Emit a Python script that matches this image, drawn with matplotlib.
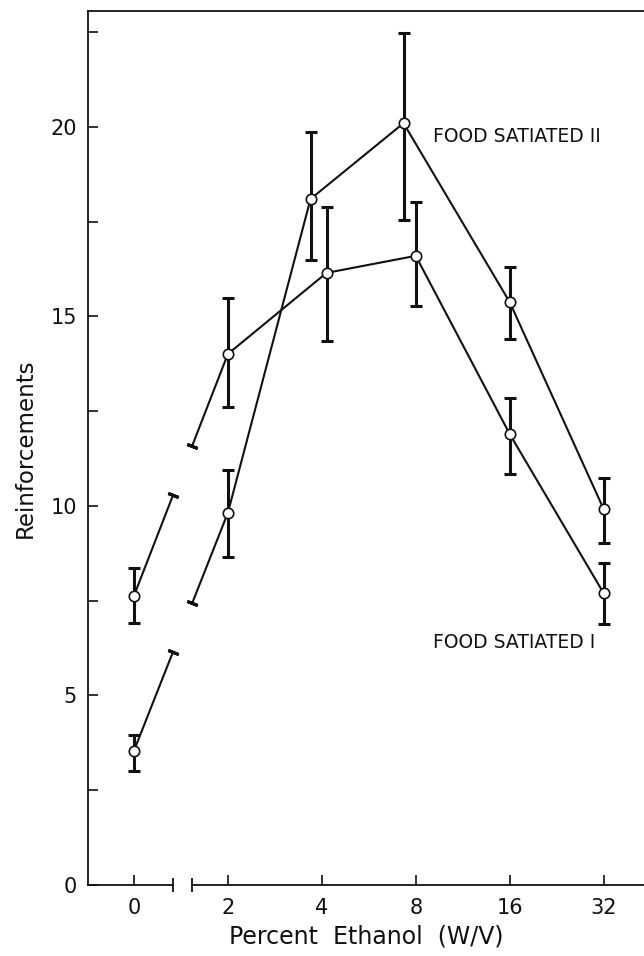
import numpy as np
import matplotlib
matplotlib.use("Agg")
import matplotlib.pyplot as plt

# ethanol concentration (% w/v), shown as equally spaced categories
conc_labels = ["0", "2", "4", "8", "16", "32"]

# FOOD SATIATED I
food_i_mean = [7.63, 14.01, 16.15, 16.6, 11.9, 7.7]
food_i_upper = [8.36, 15.5, 17.9, 18.02, 12.85, 8.5]
food_i_lower = [6.91, 12.61, 14.35, 15.28, 10.84, 6.89]

# FOOD SATIATED II
food_ii_mean = [3.54, 9.82, 18.1, 20.1, 15.38, 9.92]
food_ii_upper = [3.96, 10.95, 19.87, 22.47, 16.3, 10.74]
food_ii_lower = [3.01, 8.65, 16.49, 17.55, 14.4, 9.02]

y_ticks = [0, 2.5, 5, 7.5, 10, 12.5, 15, 17.5, 20, 22.5]

# layout only: small horizontal shifts so the two series don't overlap
dodge_i = [0, 0, 0.05, 0, 0, 0]
dodge_ii = [0, 0, -0.12, -0.13, 0, 0]
break_lo, break_hi = 0.415, 0.62

W, H = 644, 956
fig = plt.figure(figsize=(W / 100, H / 100), dpi=100)
ax = fig.add_axes([88 / W, 71 / H, (W - 88) / W, 874 / H])
ax.set_xlim(-0.489, 5.43)
ax.set_ylim(0, 23.06)

ink = "#111111"
series = [
    (food_i_mean, food_i_lower, food_i_upper, dodge_i),
    (food_ii_mean, food_ii_lower, food_ii_upper, dodge_ii),
]

for mean, lower, upper, dodge in series:
    mean = np.array(mean)
    x = np.arange(len(mean)) + np.array(dodge)
    yerr = [mean - np.array(lower), np.array(upper) - mean]
    ax.errorbar(x, mean, yerr=yerr, fmt="none", ecolor=ink,
                elinewidth=2.2, capsize=4.5, capthick=2.2, zorder=2)

    # line across the axis break: drawn in two pieces with a gap
    y_lo = np.interp(break_lo, x[:2], mean[:2])
    y_hi = np.interp(break_hi, x[:2], mean[:2])
    ax.plot([x[0], break_lo], [mean[0], y_lo], color=ink, lw=1.5, zorder=3)
    ax.plot([break_hi] + list(x[1:]), [y_hi] + list(mean[1:]),
            color=ink, lw=1.5, zorder=3)

    # small perpendicular bars at the ends of the broken segment
    p0 = ax.transData.transform((x[0], mean[0]))
    p1 = ax.transData.transform((x[1], mean[1]))
    ang = np.degrees(np.arctan2(p1[1] - p0[1], p1[0] - p0[0]))
    for bx, by in [(break_lo, y_lo), (break_hi, y_hi)]:
        ax.plot([bx], [by], marker=(2, 2, ang), markersize=8,
                markeredgewidth=2.2, color=ink, zorder=3)

    ax.plot(x, mean, "o", markersize=7.5, markerfacecolor="white",
            markeredgecolor=ink, markeredgewidth=1.2, zorder=4)

ax.text(3.18, 19.74, "FOOD SATIATED II", fontsize=13.5, va="center",
        ha="left", color=ink, family="Liberation Sans Narrow")
ax.text(3.18, 6.39, "FOOD SATIATED I", fontsize=13.5, va="center",
        ha="left", color=ink, family="Liberation Sans Narrow")

# axes: top and left lines, bottom line with a break, no right line
ax.spines["right"].set_visible(False)
ax.spines["bottom"].set_visible(False)
for s in ["top", "left"]:
    ax.spines[s].set_linewidth(1.3)
    ax.spines[s].set_color(ink)
xmin, xmax = ax.get_xlim()
ax.plot([xmin, break_lo], [0, 0], color=ink, lw=1.3, clip_on=False, zorder=5)
ax.plot([break_hi, xmax], [0, 0], color=ink, lw=1.3, clip_on=False, zorder=5)
ax.plot([break_lo, break_hi], [0, 0], "|", color=ink, markersize=10,
        markeredgewidth=1.3, clip_on=False, zorder=5)

ax.set_xticks(range(len(conc_labels)))
ax.set_xticklabels(conc_labels)
ax.set_yticks(y_ticks)
ax.set_yticklabels([str(int(t)) if t % 5 == 0 else "" for t in y_ticks])
ax.tick_params(axis="both", direction="in", length=7, width=1.2,
               labelsize=15, colors=ink)
ax.tick_params(axis="x", pad=9)
ax.tick_params(axis="y", pad=8)

ax.set_xlabel("Percent  Ethanol  (W/V)", fontsize=17, color=ink, labelpad=5)
ax.set_ylabel("Reinforcements", fontsize=16.5, color=ink, labelpad=10)

fig.savefig("out.png", dpi=100)
